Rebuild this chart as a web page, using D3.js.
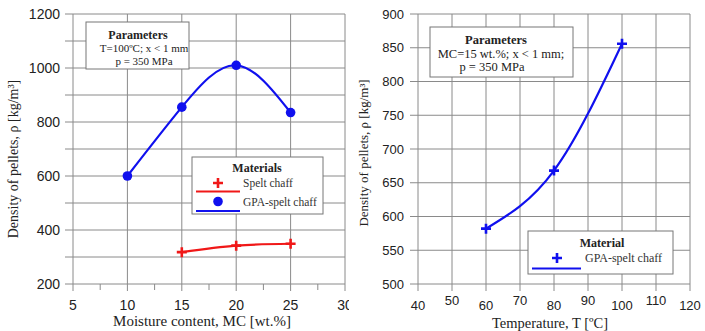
<!DOCTYPE html>
<html><head><meta charset="utf-8">
<script src="https://cdn.jsdelivr.net/npm/d3@7"></script>
<style>body{margin:0;background:#fff}svg{display:block}
.sf{font-family:"Liberation Serif","Times New Roman","DejaVu Serif",serif}
.ss{font-family:"Liberation Sans",Arial,"DejaVu Sans",sans-serif}
</style>
</head><body><svg id="c" width="705" height="331"></svg>
<script>
// Left chart data
const mcValues = [10, 15, 20, 25];
const gpaDensityMC = [600, 855, 1010, 835];
const speltMC = [15, 20, 25];
const speltDensityMC = [318, 342, 349];
const leftXTicks = [5, 10, 15, 20, 25, 30];
const leftYTicks = [200, 400, 600, 800, 1000, 1200];
// Right chart data
const tempValues = [60, 80, 100];
const gpaDensityT = [582, 668, 856];
const rightXTicks = [40, 50, 60, 70, 80, 90, 100, 110, 120];
const rightYTicks = [500, 550, 600, 650, 700, 750, 800, 850, 900];

const svg = d3.select("#c");
const RED = "#f01818", BLUE = "#1010ee", GRID = "#8a8a8a";

function plus(g, x, y, color, s) {
  g.append("path").attr("d", `M${x-s},${y}H${x+s}M${x},${y-s}V${y+s}`)
    .attr("stroke", color).attr("stroke-width", 2.6).attr("fill", "none");
}
function txt(g, x, y, s, cls, size, anchor, bold, fill) {
  return g.append("text").attr("x", x).attr("y", y).attr("class", cls)
    .attr("font-size", size).attr("text-anchor", anchor || "start")
    .attr("font-weight", bold ? "bold" : "normal").attr("fill", fill || "#222").text(s);
}

// ---------- Left chart ----------
const xL = d3.scaleLinear().domain([5, 30]).range([73, 345]);
const yL = d3.scaleLinear().domain([200, 1200]).range([284, 14]);
const gL = svg.append("g");
gL.selectAll(".hy").data(d3.range(200, 1201, 100)).join("line")
  .attr("x1", 65).attr("x2", 345).attr("y1", d => yL(d)).attr("y2", d => yL(d))
  .attr("stroke", GRID).attr("stroke-width", 1);
gL.selectAll(".vx").data(leftXTicks).join("line")
  .attr("x1", d => xL(d)).attr("x2", d => xL(d)).attr("y1", 14).attr("y2", 291)
  .attr("stroke", GRID).attr("stroke-width", 1);
gL.selectAll(".mx").data(d3.range(7.5, 30, 5)).join("line")
  .attr("x1", d => xL(d)).attr("x2", d => xL(d)).attr("y1", 284).attr("y2", 290)
  .attr("stroke", GRID).attr("stroke-width", 1);
gL.selectAll(".ty").data(leftYTicks).join("text").attr("class", "ss")
  .attr("x", 60).attr("y", d => yL(d)).attr("dy", "0.36em").attr("text-anchor", "end")
  .attr("font-size", 14).attr("fill", "#222").text(d => d);
gL.selectAll(".tx").data(leftXTicks).join("text").attr("class", "ss")
  .attr("x", d => xL(d)).attr("y", 304.5).attr("dy", "0.36em").attr("text-anchor", "middle")
  .attr("font-size", 14).attr("fill", "#222").text(d => d);
gL.append("text").attr("class", "sf").attr("transform", "translate(18,159) rotate(-90)").attr("text-anchor", "middle")
  .attr("font-size", 14).attr("fill", "#222").text("Density of pellets, ρ [kg/m³]");
txt(gL, 202, 326, "Moisture content, MC [wt.%]", "sf", 15, "middle");

const lineL = d3.line().x(d => xL(d[0])).y(d => yL(d[1])).curve(d3.curveNatural);
const gpaPts = mcValues.map((v, i) => [v, gpaDensityMC[i]]);
const speltPts = speltMC.map((v, i) => [v, speltDensityMC[i]]);
gL.append("path").attr("d", lineL(gpaPts)).attr("fill", "none").attr("stroke", BLUE).attr("stroke-width", 2.2);
gL.append("path").attr("d", lineL(speltPts)).attr("fill", "none").attr("stroke", RED).attr("stroke-width", 2.2);
gL.selectAll(".dot").data(gpaPts).join("circle")
  .attr("cx", d => xL(d[0])).attr("cy", d => yL(d[1])).attr("r", 4.8).attr("fill", BLUE);
speltPts.forEach(d => plus(gL, xL(d[0]), yL(d[1]), RED, 5));

gL.append("rect").attr("x", 86).attr("y", 22).attr("width", 103).attr("height", 47)
  .attr("fill", "#fff").attr("stroke", "#777").attr("stroke-width", 1);
txt(gL, 138, 38.5, "Parameters", "sf", 12, "middle", true);
txt(gL, 144, 52, "T=100ºC; x < 1 mm", "sf", 11, "middle");
txt(gL, 144, 65, "p = 350 MPa", "sf", 11, "middle");

gL.append("rect").attr("x", 192).attr("y", 157).attr("width", 131).attr("height", 57)
  .attr("fill", "#fff").attr("stroke", "#777").attr("stroke-width", 1);
txt(gL, 257, 172, "Materials", "sf", 12, "middle", true);
plus(gL, 218, 183, RED, 5);
gL.append("line").attr("x1", 196).attr("x2", 240).attr("y1", 191.5).attr("y2", 191.5).attr("stroke", RED).attr("stroke-width", 2.2);
gL.append("circle").attr("cx", 218).attr("cy", 201.5).attr("r", 4.8).attr("fill", BLUE);
gL.append("line").attr("x1", 196).attr("x2", 240).attr("y1", 211).attr("y2", 211).attr("stroke", BLUE).attr("stroke-width", 2.2);
txt(gL, 243, 187, "Spelt chaff", "sf", 11.5, "start", false, "#333");
txt(gL, 243, 206, "GPA-spelt chaff", "sf", 11.5, "start", false, "#333");

// ---------- Right chart ----------
svg.append("rect").attr("x", 349).attr("y", 0).attr("width", 356).attr("height", 331).attr("fill", "#fff");
const xR = d3.scaleLinear().domain([40, 120]).range([418, 690]);
const yR = d3.scaleLinear().domain([500, 900]).range([284, 14]);
const gR = svg.append("g");
gR.selectAll(".hy").data(rightYTicks).join("line")
  .attr("x1", 410).attr("x2", 690).attr("y1", d => yR(d)).attr("y2", d => yR(d))
  .attr("stroke", GRID).attr("stroke-width", 1);
gR.selectAll(".vx").data(rightXTicks).join("line")
  .attr("x1", d => xR(d)).attr("x2", d => xR(d)).attr("y1", 14).attr("y2", 291)
  .attr("stroke", GRID).attr("stroke-width", 1);
gR.selectAll(".ty").data(rightYTicks).join("text").attr("class", "ss")
  .attr("x", 404).attr("y", d => yR(d)).attr("dy", "0.36em").attr("text-anchor", "end")
  .attr("font-size", 13).attr("fill", "#222").text(d => d);
gR.selectAll(".tx").data(rightXTicks).join("text").attr("class", "ss")
  .attr("x", d => xR(d)).attr("y", (d, i) => i % 2 ? 300 : 305.5).attr("dy", "0.36em").attr("text-anchor", "middle")
  .attr("font-size", 13).attr("fill", "#222").text(d => d);
gR.append("text").attr("class", "sf").attr("transform", "translate(368,153) rotate(-90)").attr("text-anchor", "middle")
  .attr("font-size", 13).attr("fill", "#222").text("Density of pellets, ρ [kg/m³]");
txt(gR, 550, 327.5, "Temperature, T [ºC]", "sf", 14.5, "middle");
const lineR = d3.line().x(d => xR(d[0])).y(d => yR(d[1])).curve(d3.curveNatural);
const tPts = tempValues.map((v, i) => [v, gpaDensityT[i]]);
gR.append("path").attr("d", lineR(tPts)).attr("fill", "none").attr("stroke", BLUE).attr("stroke-width", 2.2);
tPts.forEach(d => plus(gR, xR(d[0]), yR(d[1]), BLUE, 5));

gR.append("rect").attr("x", 430).attr("y", 27).attr("width", 143).attr("height", 50)
  .attr("fill", "#fff").attr("stroke", "#777").attr("stroke-width", 1);
txt(gR, 496, 44, "Parameters", "sf", 12.5, "middle", true);
txt(gR, 501, 57.5, "MC=15 wt.%; x < 1 mm;", "sf", 12.5, "middle");
txt(gR, 492, 71, "p = 350 MPa", "sf", 12.5, "middle");

gR.append("rect").attr("x", 528).attr("y", 231).attr("width", 145).attr("height", 43)
  .attr("fill", "#fff").attr("stroke", "#777").attr("stroke-width", 1);
txt(gR, 602, 247, "Material", "sf", 12, "middle", true);
plus(gR, 557, 258, BLUE, 5);
gR.append("line").attr("x1", 532).attr("x2", 581).attr("y1", 268.5).attr("y2", 268.5).attr("stroke", BLUE).attr("stroke-width", 2.2);
txt(gR, 585, 262, "GPA-spelt chaff", "sf", 12, "start", false, "#333");
</script></body></html>
